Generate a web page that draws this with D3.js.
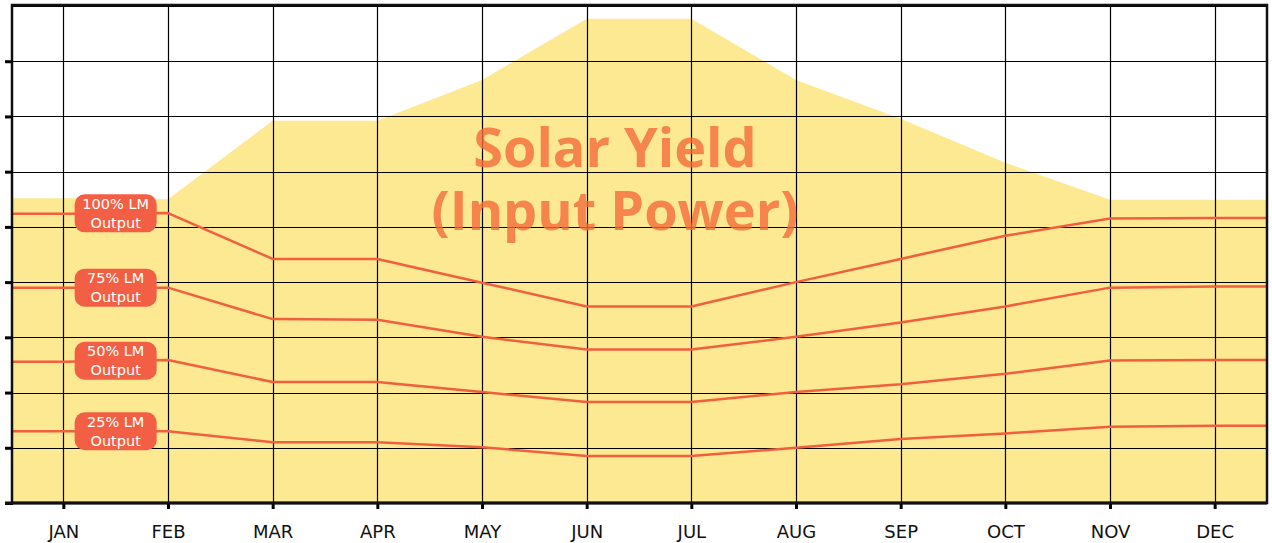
<!DOCTYPE html>
<html>
<head>
<meta charset="utf-8">
<script src="https://cdn.jsdelivr.net/npm/d3@7"></script>
<style>
  body { margin: 0; background: #fff; }
  svg { display: block; }
</style>
</head>
<body>
<div id="chart"></div>
<script>
// chart data
var months = ['JAN', 'FEB', 'MAR', 'APR', 'MAY', 'JUN', 'JUL', 'AUG', 'SEP', 'OCT', 'NOV', 'DEC']
var solarYield = [55.2, 55.0, 69.2, 69.2, 76.6, 87.7, 87.7, 76.6, 69.6, 61.6, 54.9, 54.9]
var lm100 = [52.4, 52.5, 44.2, 44.2, 39.9, 35.6, 35.6, 40.0, 44.2, 48.4, 51.5, 51.6]
var lm75 = [39.0, 39.0, 33.3, 33.2, 30.1, 27.8, 27.8, 30.1, 32.7, 35.6, 39.0, 39.2]
var lm50 = [25.6, 25.9, 21.9, 21.9, 20.1, 18.3, 18.3, 20.1, 21.5, 23.4, 25.8, 25.9]
var lm25 = [13.0, 13.0, 11.0, 11.0, 10.1, 8.5, 8.5, 10.0, 11.6, 12.6, 13.8, 14.0]
var lmSeries = [
  { name: ['100% LM', 'Output'], values: lm100 },
  { name: ['75% LM', 'Output'], values: lm75 },
  { name: ['50% LM', 'Output'], values: lm50 },
  { name: ['25% LM', 'Output'], values: lm25 }
]
var yTicks = [0, 10, 20, 30, 40, 50, 60, 70, 80, 90]

var COLOR = {
  YIELD: '#fde992',
  LINE: '#f25f3f',
  LABEL: '#f25f44',
  TITLE: '#f26b3a'
}

var chart_width = 1272
var chart_height = 543
var plot = { left: 11, right: 1267, top: 6, bottom: 503 }

var svg = d3
  .select('#chart')
  .append('svg')
  .attr('width', chart_width)
  .attr('height', chart_height)

var x = d3
  .scaleLinear()
  .domain([-0.5, months.length - 0.5])
  .range([plot.left, plot.right])

var y = d3
  .scaleLinear()
  .domain([0, 90])
  .range([plot.bottom, plot.top])

// pad each series out to the plot edges with its first / last value
function toPoints(values) {
  var pts = values.map((v, i) => [i, v])
  pts.unshift([-0.5, values[0]])
  pts.push([months.length - 0.5, values[values.length - 1]])
  return pts
}

// solar yield area
svg
  .append('path')
  .datum(toPoints(solarYield))
  .attr('fill', COLOR.YIELD)
  .attr(
    'd',
    d3
      .area()
      .x(d => x(d[0]))
      .y0(y(0))
      .y1(d => y(d[1]))
  )

// grid
svg
  .append('g')
  .selectAll('line')
  .data(yTicks.slice(1))
  .enter()
  .append('line')
  .attr('x1', plot.left)
  .attr('x2', plot.right)
  .attr('y1', d => Math.round(y(d)) + 0.5)
  .attr('y2', d => Math.round(y(d)) + 0.5)
  .attr('stroke', '#000')
  .attr('stroke-width', 1.2)

svg
  .append('g')
  .selectAll('line')
  .data(months)
  .enter()
  .append('line')
  .attr('x1', (d, i) => Math.round(x(i)) + 0.5)
  .attr('x2', (d, i) => Math.round(x(i)) + 0.5)
  .attr('y1', plot.top)
  .attr('y2', plot.bottom)
  .attr('stroke', '#000')
  .attr('stroke-width', 1.2)

// title
var titleLines = ['Solar Yield', '(Input Power)']
svg
  .append('g')
  .selectAll('text')
  .data(titleLines)
  .enter()
  .append('text')
  .attr('x', 615)
  .attr('y', (d, i) => 167 + i * 63)
  .attr('text-anchor', 'middle')
  .attr('font-family', 'Open Sans')
  .attr('font-weight', 'bold')
  .attr('font-size', 54)
  .attr('fill', COLOR.TITLE)
  .attr('fill-opacity', 0.8)
  .text(d => d)

// LM output lines
var line = d3
  .line()
  .x(d => x(d[0]))
  .y(d => y(d[1]))

svg
  .append('g')
  .selectAll('path')
  .data(lmSeries)
  .enter()
  .append('path')
  .attr('fill', 'none')
  .attr('stroke', COLOR.LINE)
  .attr('stroke-width', 2.5)
  .attr('stroke-linejoin', 'round')
  .attr('d', d => line(toPoints(d.values)))

// frame + axes
svg
  .append('rect')
  .attr('x', plot.left + 1)
  .attr('y', plot.top - 1)
  .attr('width', plot.right - plot.left - 1)
  .attr('height', plot.bottom - plot.top + 1)
  .attr('fill', 'none')
  .attr('stroke', '#111')
  .attr('stroke-width', 2.5)

var yAxis = svg
  .append('g')
  .attr('transform', 'translate(' + (plot.left + 2) + ',0)')
  .call(d3.axisLeft(y).tickValues(yTicks.slice(0, -1)).tickSize(8).tickFormat(''))
yAxis.select('.domain').remove()
yAxis.selectAll('.tick line').attr('stroke', '#000').attr('stroke-width', 3)

var xAxis = svg
  .append('g')
  .attr('transform', 'translate(0,' + plot.bottom + ')')
  .call(
    d3
      .axisBottom(x)
      .tickValues(d3.range(months.length))
      .tickSize(6)
      .tickPadding(16)
      .tickFormat(i => months[i])
  )
xAxis.select('.domain').remove()
xAxis.selectAll('.tick line').attr('stroke', '#000').attr('stroke-width', 3)
xAxis
  .selectAll('.tick text')
  .attr('font-family', 'DejaVu Sans')
  .attr('font-size', 18)
  .attr('fill', '#111')

svg
  .append('line')
  .attr('x1', 5)
  .attr('x2', plot.right)
  .attr('y1', plot.bottom)
  .attr('y2', plot.bottom)
  .attr('stroke', '#111')
  .attr('stroke-width', 3)

// series labels, halfway between JAN and FEB
var labels = svg
  .append('g')
  .selectAll('g')
  .data(lmSeries)
  .enter()
  .append('g')
  .attr('transform', d => 'translate(' + x(0.5) + ',' + y((d.values[0] + d.values[1]) / 2) + ')')

labels
  .append('rect')
  .attr('x', -41)
  .attr('y', -19)
  .attr('width', 82)
  .attr('height', 38)
  .attr('rx', 10)
  .attr('fill', COLOR.LABEL)

labels
  .append('text')
  .attr('text-anchor', 'middle')
  .attr('font-family', 'DejaVu Sans')
  .attr('font-size', 14.5)
  .attr('fill', '#fff')
  .selectAll('tspan')
  .data(d => d.name)
  .enter()
  .append('tspan')
  .attr('x', 0)
  .attr('y', (d, i) => (i === 0 ? -4.5 : 14.5))
  .text(d => d)
</script>
</body>
</html>
